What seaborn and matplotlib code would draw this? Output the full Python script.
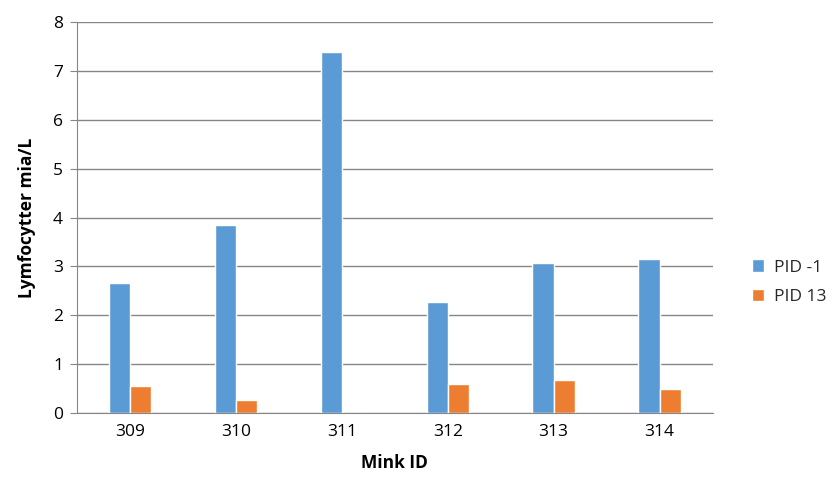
import numpy as np
import pandas as pd
import matplotlib.pyplot as plt
import seaborn as sns

# values
mink_ids = ['309', '310', '311', '312', '313', '314']
pid_minus1 = [2.65, 3.85, 7.38, 2.27, 3.06, 3.16]
pid_13 = [0.545, 0.265, 0.0, 0.59, 0.68, 0.50]
series_names = ['PID -1', 'PID 13']
colors = ['#5B9BD5', '#ED7D31']
y_ticks = [0, 1, 2, 3, 4, 5, 6, 7, 8]

df = pd.DataFrame({
    'Mink ID': mink_ids * 2,
    'value': pid_minus1 + pid_13,
    'series': [series_names[0]] * len(mink_ids) + [series_names[1]] * len(mink_ids),
})

sns.set_style('white')
plt.rcParams['font.family'] = ['Open Sans', 'DejaVu Sans']

fig = plt.figure(figsize=(8.36, 4.92), dpi=100)
left, right = 77 / 836, 712.5 / 836
bottom, top = (492 - 413) / 492, (492 - 22) / 492
ax = fig.add_axes([left, bottom, right - left, top - bottom])

sns.barplot(data=df, x='Mink ID', y='value', hue='series', palette=colors,
            width=0.4, gap=0, saturation=1, ax=ax, legend=True, zorder=3)

ax.set_ylim(0, 8)
ax.set_yticks(y_ticks)
ax.set_xlim(-0.5, len(mink_ids) - 0.5)
ax.yaxis.grid(True, color='#868686', linewidth=1.0, zorder=0)
ax.set_axisbelow(True)

for side in ['top', 'right']:
    ax.spines[side].set_visible(False)
ax.spines['left'].set_color('#868686')
ax.spines['bottom'].set_color('#868686')
ax.tick_params(axis='y', length=5, color='#868686', labelsize=12.5, labelcolor='black',
               pad=5, direction='out', left=True)
ax.tick_params(axis='x', length=0, labelsize=12.5, labelcolor='black', pad=8)

ax.set_xlabel('Mink ID', fontsize=12.5, fontweight='bold', labelpad=10, color='black')
ax.set_ylabel('Lymfocytter mia/L', fontsize=12.5, fontweight='bold', labelpad=12, color='black')

handles, labels = ax.get_legend_handles_labels()
ax.legend(handles, labels, loc='center left', bbox_to_anchor=(1.037, 0.335),
          frameon=False, fontsize=12.5, handlelength=0.7, handleheight=0.7,
          labelspacing=0.75, handletextpad=0.6)

fig.savefig('out.png', dpi=100)
